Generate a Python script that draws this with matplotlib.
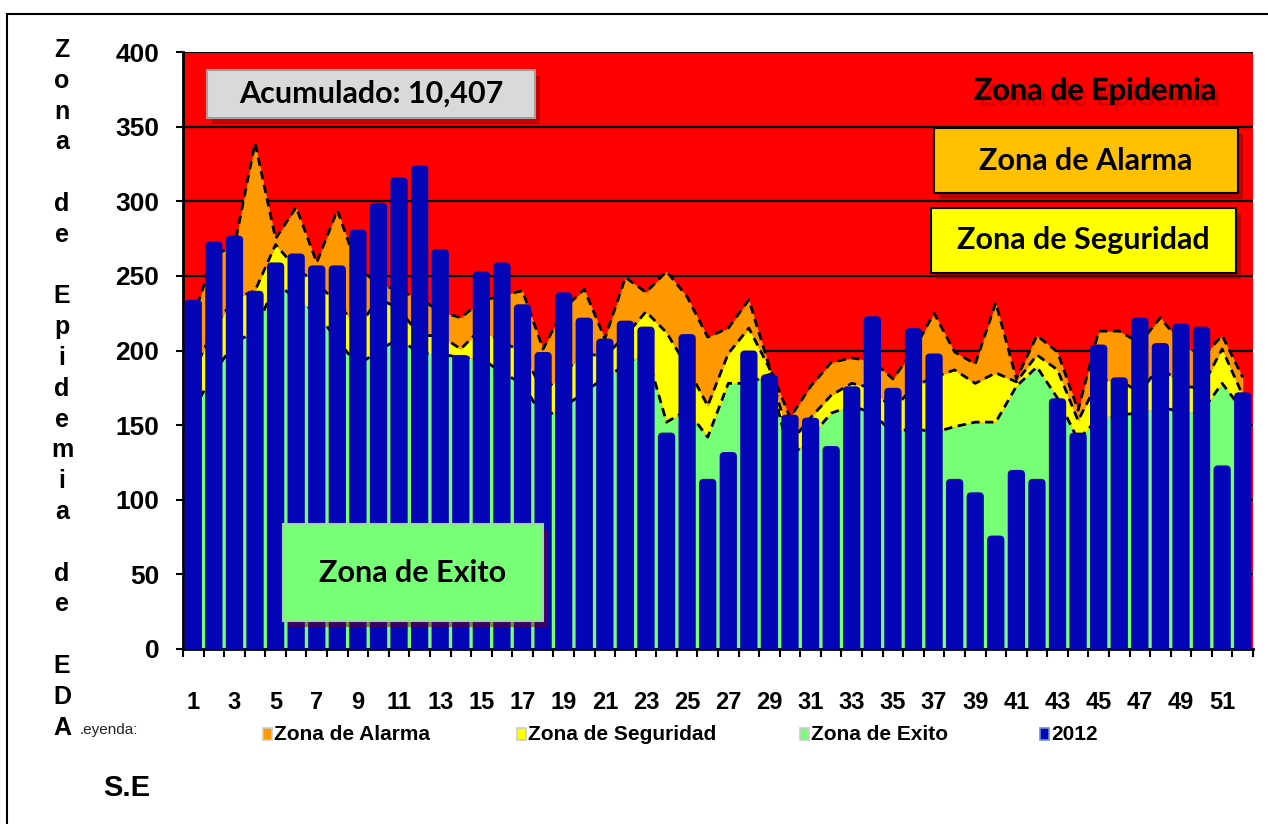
import matplotlib
matplotlib.use("Agg")
import matplotlib.pyplot as plt
from matplotlib import font_manager
from matplotlib.patches import FancyBboxPatch, Rectangle
import matplotlib.patheffects as pe

# ---------------- data ----------------
weeks = list(range(1, 53))
cases_2012 = [234, 273, 277, 240, 259, 265, 257, 257, 281, 299, 316, 324, 268, 197,
              253, 259, 231, 199, 239, 222, 208, 220, 216, 145, 211, 114, 132, 200,
              184, 157, 155, 136, 176, 223, 175, 215, 198, 114, 105, 76, 120, 114,
              168, 145, 204, 182, 222, 205, 218, 216, 123, 172]
zona_exito = [160, 185, 205, 213, 245, 235, 225, 207, 190, 200, 208, 198, 198, 195,
              195, 185, 178, 155, 162, 172, 182, 190, 200, 152, 160, 142, 178, 178,
              184, 128, 142, 158, 163, 158, 145, 148, 145, 149, 152, 152, 176, 189,
              168, 140, 155, 157, 158, 162, 159, 159, 178, 160]
zona_seguridad = [185, 215, 235, 240, 271, 255, 245, 232, 215, 235, 228, 210, 210, 201,
                  215, 205, 200, 172, 185, 198, 196, 210, 226, 212, 189, 163, 198, 215,
                  188, 138, 155, 170, 178, 175, 160, 176, 182, 187, 178, 185, 179, 197,
                  187, 153, 180, 180, 172, 190, 176, 175, 201, 170]
zona_alarma = [222, 264, 270, 339, 275, 296, 259, 294, 255, 245, 240, 235, 226, 222,
               233, 237, 240, 201, 228, 241, 208, 249, 239, 253, 236, 209, 215, 234,
               189, 155, 176, 192, 195, 193, 181, 200, 225, 199, 191, 232, 181, 210,
               199, 160, 213, 213, 205, 222, 205, 195, 210, 182]
yticks = [0, 50, 100, 150, 200, 250, 300, 350, 400]
xtick_weeks = [w for w in weeks if w % 2 == 1]
legend_labels = ["Zona de Alarma", "Zona de Seguridad", "Zona de Exito", "2012"]
ylabel_text = "Zona de Epidemia de EDA"

# ---------------- fonts ----------------
available = {f.name for f in font_manager.fontManager.ttflist}
def pick(*names):
    for n in names:
        if n in available:
            return n
    return "DejaVu Sans"
NARROW = pick("Liberation Sans Narrow", "Liberation Sans")
ARIAL = pick("Liberation Sans", "DejaVu Sans")
CAL = pick("Lato", "Open Sans", "DejaVu Sans")

RED = "#FF0000"
ORANGE = "#FF9900"
YELLOW = "#FFFF00"
GREEN = "#77FF77"
BLUE = "#0505B8"

W, H = 1268, 824
def fx(px): return px / W
def fy(py): return 1 - py / H

fig = plt.figure(figsize=(W / 100, H / 100), dpi=100)
fig.patch.set_facecolor("white")

ax = fig.add_axes([fx(183), fy(649), fx(1253) - fx(183), fy(52) - fy(649)])
ax.set_facecolor(RED)
ax.set_xlim(0.5, 52.5)
ax.set_ylim(0, 400)

# grid behind areas
ax.set_axisbelow(True)
ax.set_yticks(yticks)
ax.yaxis.grid(True, color="black", lw=1.6)

# stacked zones
ax.fill_between(weeks, 0, zona_exito, color=GREEN, lw=0, zorder=1)
ax.fill_between(weeks, zona_exito, zona_seguridad, color=YELLOW, lw=0, zorder=1)
ax.fill_between(weeks, zona_seguridad, zona_alarma, color=ORANGE, lw=0, zorder=1)
for series in (zona_exito, zona_seguridad, zona_alarma):
    ax.plot(weeks, series, color="black", lw=2, ls=(0, (3, 2)), zorder=2)

# bars with rounded tops
bars = ax.bar(weeks, cases_2012, width=0.84, color=BLUE, zorder=3)
px_per_x = (1253 - 183) / 52.0
px_per_y = (649 - 52) / 400.0
aspect = px_per_x / px_per_y
for r in bars:
    x0, w, h = r.get_x(), r.get_width(), r.get_height()
    fb = FancyBboxPatch((x0, -20), w, h + 20,
                        boxstyle="round,pad=0,rounding_size=0.22",
                        mutation_aspect=aspect, fc=BLUE, ec="none", zorder=3)
    ax.add_patch(fb)
    r.set_visible(False)

# axes styling
for s in ("top", "right"):
    ax.spines[s].set_visible(False)
ax.spines["left"].set_linewidth(2)
ax.spines["bottom"].set_linewidth(2)
ax.tick_params(axis="y", direction="out", length=5, width=1.5, pad=12,
               labelsize=19)
for lab in ax.get_yticklabels():
    lab.set_fontweight("bold")
    lab.set_family(NARROW)

ax.set_xticks(xtick_weeks)
ax.set_xticklabels([str(w) for w in xtick_weeks])
ax.set_xticks([w - 0.5 for w in weeks] + [52.5], minor=True)
ax.tick_params(axis="x", which="major", length=0, pad=30, labelsize=17)
ax.tick_params(axis="x", which="minor", direction="out", length=6, width=1.5)
for lab in ax.get_xticklabels():
    lab.set_fontweight("bold")
    lab.set_family(NARROW)

# ---------------- annotation boxes ----------------
def box(x0, y0, x1, y1, fc, ec, text, fs, shadow=True):
    if shadow:
        fig.patches.append(Rectangle((fx(x0 + 5), fy(y1 + 6)), (x1 - x0) / W, (y1 - y0) / H,
                                     transform=fig.transFigure, fc="#7a0000", alpha=0.45,
                                     ec="none", zorder=4))
    fig.patches.append(Rectangle((fx(x0), fy(y1)), (x1 - x0) / W, (y1 - y0) / H,
                                 transform=fig.transFigure, fc=fc, ec=ec, lw=1.5, zorder=5))
    fig.text(fx((x0 + x1) / 2), fy((y0 + y1) / 2), text, ha="center", va="center",
             fontsize=fs, fontweight="bold", family=CAL, zorder=6)

box(207, 70, 535, 118, "#D9D9D9", "#A0A0A0", "Acumulado: 10,407", 22)
box(934, 128, 1238, 193, "#FFC000", "black", "Zona de Alarma", 22)
box(931, 208, 1236, 273, YELLOW, "black", "Zona de Seguridad", 22)
box(283, 524, 543, 621, GREEN, "#9fd89f", "Zona de Exito", 22)
fig.text(fx(1095), fy(91), "Zona de Epidemia", ha="center", va="center", fontsize=22,
         fontweight="bold", family=CAL, zorder=6,
         path_effects=[pe.withSimplePatchShadow(offset=(3, -4), shadow_rgbFace="#990000", alpha=0.35),
                       pe.Normal()])

# ---------------- vertical y label (one letter per line) ----------------
y0, dy = 50, 30.8
i = 0
for wi, word in enumerate(ylabel_text.split(" ")):
    for ch in word:
        fig.text(fx(62), fy(y0 + i * dy), ch, ha="center", va="center", fontsize=18,
                 fontweight="bold", family=ARIAL)
        i += 1
    i += 1

fig.text(fx(103), fy(788), "S.E", ha="left", va="center", fontsize=21,
         fontweight="bold", family=ARIAL)

# ---------------- legend ----------------
fig.text(fx(80), fy(730), ".eyenda:", ha="left", va="center", fontsize=11, family=ARIAL,
         color="#222222")
leg_colors = [ORANGE, YELLOW, GREEN, BLUE]
leg_edges = ["#cccccc", "#cccccc", "#cccccc", "#6a8fd8"]
leg_x = [263, 517, 800, 1040]
for lx, lab, c, ec in zip(leg_x, legend_labels, leg_colors, leg_edges):
    fig.patches.append(Rectangle((fx(lx), fy(740)), 9 / W, 12 / H, transform=fig.transFigure,
                                 fc=c, ec=ec, lw=1.2, zorder=5))
    fig.text(fx(lx + 11), fy(734), lab, ha="left", va="center", fontsize=15,
             fontweight="bold", family=NARROW)

# outer frame
fig.patches.append(Rectangle((fx(7), fy(840)), (1300 - 7) / W, (840 - 14) / H,
                             transform=fig.transFigure, fc="none", ec="black", lw=1.5,
                             zorder=7))

fig.savefig("out.png", dpi=100)
